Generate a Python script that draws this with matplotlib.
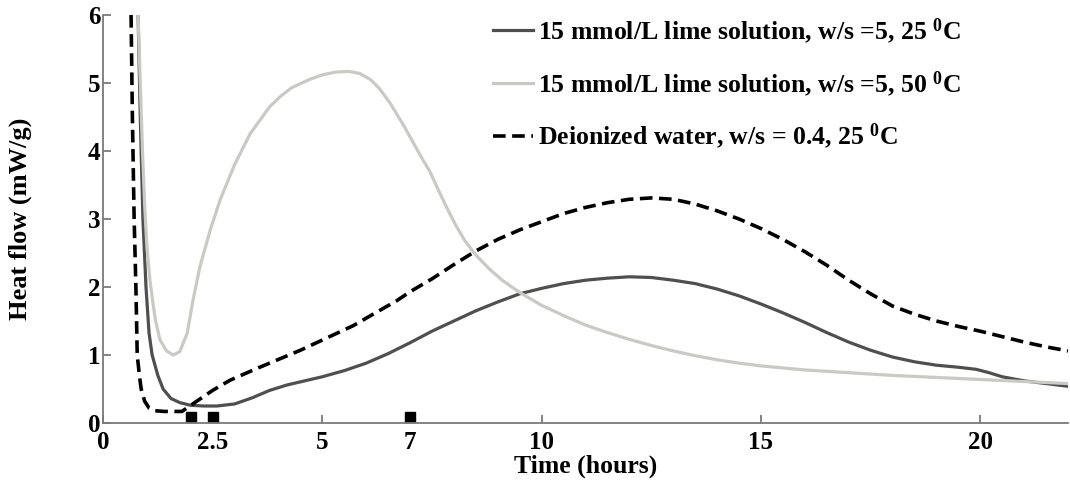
import numpy as np
import matplotlib
matplotlib.use("Agg")
import matplotlib.pyplot as plt

# Heat flow curves (time in hours, heat flow in mW/g)
t_lime25 = [0.80, 0.85, 0.91, 0.98, 1.05, 1.12, 1.25, 1.37, 1.55, 1.75, 2.0, 2.3, 2.6,
            3.0, 3.4, 3.8, 4.2, 4.6, 5.0, 5.5, 6.0, 6.5, 7.0, 7.5, 8.0, 8.5, 9.0, 9.5,
            10.0, 10.5, 11.0, 11.5, 12.0, 12.5, 13.0, 13.5, 14.0, 14.5, 15.0, 15.5,
            16.0, 16.5, 17.0, 17.5, 18.0, 18.5, 19.0, 19.5, 19.9, 20.2, 20.5, 21.0,
            21.5, 22.0]
hf_lime25 = [6.0, 4.5, 3.0, 2.0, 1.32, 1.0, 0.7, 0.5, 0.36, 0.3, 0.26, 0.25, 0.25,
             0.28, 0.37, 0.48, 0.56, 0.62, 0.68, 0.77, 0.88, 1.02, 1.18, 1.35, 1.5, 1.65,
             1.78, 1.9, 1.98, 2.05, 2.1, 2.13, 2.15, 2.14, 2.1, 2.05, 1.97, 1.87, 1.75,
             1.62, 1.48, 1.33, 1.19, 1.07, 0.97, 0.9, 0.85, 0.82, 0.79, 0.74, 0.68, 0.62,
             0.58, 0.54]

t_lime50 = [0.80, 0.85, 0.90, 0.95, 1.0, 1.07, 1.13, 1.2, 1.3, 1.45, 1.6, 1.75, 1.92,
            2.05, 2.21, 2.45, 2.67, 3.0, 3.36, 3.8, 4.04, 4.3, 4.7, 5.0, 5.3, 5.6, 5.85,
            6.1, 6.3, 6.55, 6.85, 7.05, 7.24, 7.45, 7.65, 7.85, 8.05, 8.25, 8.5, 8.8,
            9.1, 9.5, 10.0, 10.5, 11.0, 11.5, 12.0, 12.5, 13.0, 13.5, 14.0, 14.5, 15.0,
            16.0, 17.0, 18.0, 19.0, 20.0, 21.0, 22.0]
hf_lime50 = [6.0, 5.0, 4.0, 3.2, 2.6, 2.1, 1.8, 1.5, 1.22, 1.06, 1.0, 1.05, 1.32,
             1.8, 2.3, 2.85, 3.28, 3.8, 4.26, 4.65, 4.8, 4.93, 5.05, 5.12, 5.16, 5.17,
             5.14, 5.05, 4.92, 4.7, 4.38, 4.15, 3.93, 3.7, 3.42, 3.15, 2.9, 2.68, 2.47,
             2.27, 2.1, 1.92, 1.73, 1.58, 1.44, 1.33, 1.23, 1.14, 1.06, 0.99, 0.93, 0.88,
             0.84, 0.78, 0.74, 0.7, 0.67, 0.64, 0.61, 0.58]

t_water = [0.64, 0.67, 0.71, 0.75, 0.78, 0.83, 0.87, 0.95, 1.05, 1.19, 1.4, 1.6, 1.8,
           2.0, 2.5, 2.9, 3.5, 4.5, 5.0, 5.7, 6.32, 6.7, 7.0, 7.5, 8.0, 8.5, 9.0, 9.5,
           10.0, 10.5, 11.0, 11.5, 12.0, 12.5, 13.0, 13.5, 14.0, 14.5, 15.0, 15.5,
           16.0, 16.5, 17.0, 17.5, 18.0, 18.5, 19.0, 19.5, 20.0, 20.5, 21.0, 21.5, 22.0]
hf_water = [6.0, 4.5, 3.0, 2.0, 1.0, 0.7, 0.5, 0.32, 0.22, 0.18, 0.17, 0.17, 0.17,
            0.26, 0.48, 0.63, 0.8, 1.07, 1.22, 1.43, 1.66, 1.8, 1.93, 2.12, 2.33, 2.53,
            2.7, 2.84, 2.96, 3.08, 3.17, 3.24, 3.29, 3.31, 3.29, 3.22, 3.12, 3.0, 2.86,
            2.7, 2.52, 2.32, 2.1, 1.9, 1.72, 1.6, 1.5, 1.42, 1.35, 1.27, 1.19, 1.12, 1.06]

# sampling times marked on the axis
t_marks = [2.0, 2.5, 7.0]
hf_marks = [0.09, 0.09, 0.09]

xticks = [0, 2.5, 5, 7, 10, 15, 20]
xticklabels = ["0", "2.5", "5", "7", "10", "15", "20"]
yticks = [0, 1, 2, 3, 4, 5, 6]

plt.rcParams["font.family"] = ["Liberation Serif", "DejaVu Serif"]
plt.rcParams["font.weight"] = "bold"
plt.rcParams["mathtext.fontset"] = "custom"
plt.rcParams["mathtext.rm"] = "Liberation Serif:bold"
plt.rcParams["mathtext.default"] = "rm"

fig = plt.figure(figsize=(10.7, 4.86), dpi=100)
ax = fig.add_axes([103 / 1070, 1 - 423 / 486, 965 / 1070, 408 / 486])

ax.plot(t_lime25, hf_lime25, color="#4f4f4f", lw=2.3,
        label="15 mmol/L lime solution, w/s =5, 25 $^{0}$C")
ax.plot(t_lime50, hf_lime50, color="#c9c9c5", lw=2.3,
        label="15 mmol/L lime solution, w/s =5, 50 $^{0}$C")
ax.plot(t_water, hf_water, color="black", lw=2.6, ls=(0, (3.5, 1.8)),
        label="Deionized water, w/s = 0.4, 25 $^{0}$C")
ax.plot(t_marks, hf_marks, ls="none", marker="s", ms=7, color="black")

ax.set_xlim(0, 22)
ax.set_ylim(0, 6)
ax.set_xticks(xticks)
ax.set_xticklabels(xticklabels)
ax.set_yticks(yticks)

for s in ["top", "right"]:
    ax.spines[s].set_visible(False)
for s in ["left", "bottom"]:
    ax.spines[s].set_color("#7a7a7a")
    ax.spines[s].set_linewidth(1.3)
ax.tick_params(direction="in", length=6, width=1.3, color="#7a7a7a",
               labelcolor="black")
ax.tick_params(axis="x", labelsize=18, pad=6)
ax.tick_params(axis="y", labelsize=18, pad=2)

ax.set_xlabel("Time (hours)", fontsize=18.5, fontweight="bold", labelpad=0)
ax.set_ylabel("Heat flow (mW/g)", fontsize=19, fontweight="bold", labelpad=40)

leg = ax.legend(loc="upper left", bbox_to_anchor=(493 / 1070, 1 - 16 / 486),
                bbox_transform=fig.transFigure, frameon=False, fontsize=18.5,
                handlelength=1.56, handletextpad=0.2, labelspacing=0.89,
                borderpad=0, borderaxespad=0)

fig.savefig("out.png", dpi=100)
